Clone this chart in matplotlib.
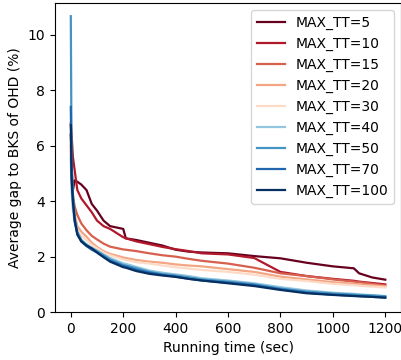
import matplotlib
matplotlib.use("Agg")
import matplotlib.pyplot as plt

# running time grid (sec)
t = [0, 3, 8, 15, 25, 40, 60, 80, 100, 125, 150, 200, 210, 250, 300, 350, 400,
     450, 500, 600, 700, 800, 900, 1000, 1080, 1100, 1150, 1200]

labels = ["MAX_TT=5", "MAX_TT=10", "MAX_TT=15", "MAX_TT=20", "MAX_TT=30",
          "MAX_TT=40", "MAX_TT=50", "MAX_TT=70", "MAX_TT=100"]
colors = ["#67001f", "#b2182b", "#d6604d", "#f4a582", "#fddbc7",
          "#92c5de", "#4393c3", "#2166ac", "#053061"]

gap_5 = [6.4, 5.2, 4.4, 4.75, 4.7, 4.6, 4.4, 3.9, 3.66, 3.3, 3.1, 3.0, 2.66, 2.6, 2.5,
         2.4, 2.25, 2.18, 2.15, 2.12, 2.02, 1.94, 1.78, 1.65, 1.58, 1.4, 1.25, 1.17]
gap_10 = [6.8, 6.4, 5.6, 5.1, 4.4, 4.1, 3.85, 3.6, 3.3, 3.1, 3.0, 2.7, 2.66, 2.55, 2.45,
          2.35, 2.27, 2.2, 2.12, 2.08, 1.95, 1.45, 1.3, 1.2, 1.13, 1.1, 1.05, 1.0]
gap_15 = [6.0, 5.0, 4.2, 3.8, 3.5, 3.2, 2.95, 2.75, 2.62, 2.47, 2.36, 2.26, 2.25, 2.2,
          2.12, 2.05, 2.0, 1.92, 1.85, 1.75, 1.6, 1.4, 1.3, 1.18, 1.1, 1.08, 1.02, 0.96]
gap_20 = [5.8, 4.8, 4.0, 3.5, 3.1, 2.9, 2.72, 2.5, 2.35, 2.2, 2.1, 1.97, 1.95, 1.88,
          1.82, 1.78, 1.72, 1.68, 1.65, 1.55, 1.45, 1.28, 1.18, 1.08, 1.02, 1.0, 0.97, 0.93]
gap_30 = [5.5, 4.6, 3.8, 3.3, 2.95, 2.75, 2.6, 2.42, 2.3, 2.15, 2.05, 1.9, 1.88, 1.8,
          1.75, 1.68, 1.62, 1.57, 1.52, 1.45, 1.35, 1.2, 1.12, 1.02, 0.97, 0.95, 0.92, 0.89]
gap_40 = [5.6, 4.4, 3.7, 3.2, 2.85, 2.6, 2.45, 2.32, 2.22, 2.08, 1.95, 1.76, 1.74, 1.63,
          1.5, 1.42, 1.36, 1.3, 1.22, 1.14, 1.04, 0.9, 0.78, 0.7, 0.66, 0.64, 0.61, 0.58]
gap_50 = [10.67, 5.5, 4.3, 3.4, 2.9, 2.6, 2.42, 2.3, 2.2, 2.05, 1.9, 1.7, 1.68, 1.58,
          1.45, 1.37, 1.32, 1.25, 1.18, 1.1, 1.0, 0.85, 0.74, 0.67, 0.63, 0.62, 0.6, 0.57]
gap_70 = [7.4, 5.0, 4.1, 3.3, 2.8, 2.55, 2.38, 2.25, 2.15, 2.0, 1.85, 1.66, 1.64, 1.52,
          1.42, 1.34, 1.28, 1.2, 1.14, 1.06, 0.97, 0.82, 0.7, 0.63, 0.59, 0.58, 0.55, 0.53]
gap_100 = [6.74, 4.8, 4.0, 3.3, 2.8, 2.55, 2.4, 2.3, 2.15, 1.98, 1.82, 1.62, 1.6, 1.48,
           1.38, 1.32, 1.27, 1.2, 1.14, 1.04, 0.94, 0.8, 0.68, 0.62, 0.58, 0.57, 0.55, 0.52]

series = [gap_5, gap_10, gap_15, gap_20, gap_30, gap_40, gap_50, gap_70, gap_100]

fig = plt.figure(figsize=(4.02, 3.6), dpi=100)
ax = fig.add_axes([0.137, 0.133, 0.8605, 0.859])

for vals, lab, col in zip(series, labels, colors):
    ax.plot(t, vals, color=col, lw=1.6, label=lab)

ax.set_ylim(0, 11.15)
ax.set_xlabel("Running time (sec)", fontsize=10)
ax.set_ylabel("Average gap to BKS of OHD (%)", fontsize=10)
ax.legend(loc="upper right", fontsize=10)

fig.savefig("out.png", dpi=100)
